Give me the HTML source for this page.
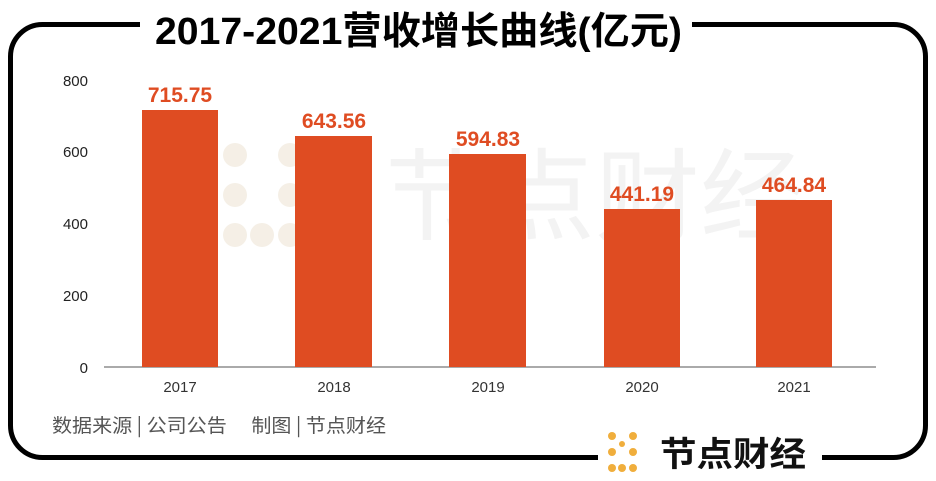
<!DOCTYPE html>
<html><head><meta charset="utf-8"><style>
html,body{margin:0;padding:0;background:#fff;}
body{width:936px;height:481px;position:relative;overflow:hidden;font-family:"Liberation Sans","Noto Sans CJK SC",sans-serif;}
.a{position:absolute;}
</style></head><body>
<svg class="a" style="left:0;top:0" width="936" height="481">
<rect x="10.5" y="24.5" width="915" height="433" rx="32" fill="none" stroke="#000" stroke-width="5"/>
<rect x="140" y="10" width="552" height="30" fill="#fff"/>
<rect x="598" y="440" width="224" height="40" fill="#fff"/>
<text x="385" y="232" font-size="100" fill="#f3f3f3" font-family="Noto Sans CJK SC,sans-serif" textLength="420" lengthAdjust="spacingAndGlyphs">节点财经</text>
<g fill="#f5efe6"><circle cx="235" cy="155" r="12"/><circle cx="290" cy="155" r="12"/><circle cx="235" cy="195" r="12"/><circle cx="290" cy="195" r="12"/><circle cx="235" cy="235" r="12"/><circle cx="262" cy="235" r="12"/><circle cx="290" cy="235" r="12"/></g>
<line x1="104" y1="367" x2="876" y2="367" stroke="#555" stroke-width="1"/>
<g fill="#DF4C22">
<rect x="142" y="110" width="76" height="257"/>
<rect x="295" y="136" width="77" height="231"/>
<rect x="449" y="154" width="77" height="213"/>
<rect x="604" y="209" width="76" height="158"/>
<rect x="756" y="200" width="76" height="167"/>
</g>
<g font-size="21" font-weight="bold" fill="#DF4C22" text-anchor="middle" font-family="Liberation Sans,sans-serif">
<text x="180" y="102">715.75</text>
<text x="334" y="128">643.56</text>
<text x="488" y="146">594.83</text>
<text x="642" y="201">441.19</text>
<text x="794" y="192">464.84</text>
</g>
<g font-size="15" fill="#222" text-anchor="end">
<text x="88" y="86">800</text>
<text x="88" y="157">600</text>
<text x="88" y="229">400</text>
<text x="88" y="301">200</text>
<text x="88" y="373">0</text>
</g>
<g font-size="15" fill="#333" text-anchor="middle">
<text x="180" y="392">2017</text>
<text x="334" y="392">2018</text>
<text x="488" y="392">2019</text>
<text x="642" y="392">2020</text>
<text x="794" y="392">2021</text>
</g>
<text x="52" y="432" font-size="19" fill="#555" font-family="Noto Sans CJK SC,sans-serif" textLength="334" lengthAdjust="spacingAndGlyphs">数据来源 | 公司公告　 制图 | 节点财经</text>
<text x="155" y="44" font-size="38" font-weight="bold" fill="#000" font-family="Liberation Sans,Noto Sans CJK SC,sans-serif" textLength="527" lengthAdjust="spacingAndGlyphs">2017-2021营收增长曲线(亿元)</text>
<g fill="#F0AE3C">
<circle cx="612" cy="436" r="4"/><circle cx="633" cy="436" r="4"/>
<circle cx="612" cy="452" r="4"/><circle cx="633" cy="452" r="4"/>
<circle cx="612" cy="468" r="4"/><circle cx="622" cy="468" r="4"/><circle cx="633" cy="468" r="4"/>
<circle cx="622" cy="444" r="3"/>
</g>
<text x="660" y="466" font-size="34" font-weight="bold" fill="#111" font-family="Noto Sans CJK SC,sans-serif" textLength="146" lengthAdjust="spacingAndGlyphs">节点财经</text>
</svg>
</body></html>
